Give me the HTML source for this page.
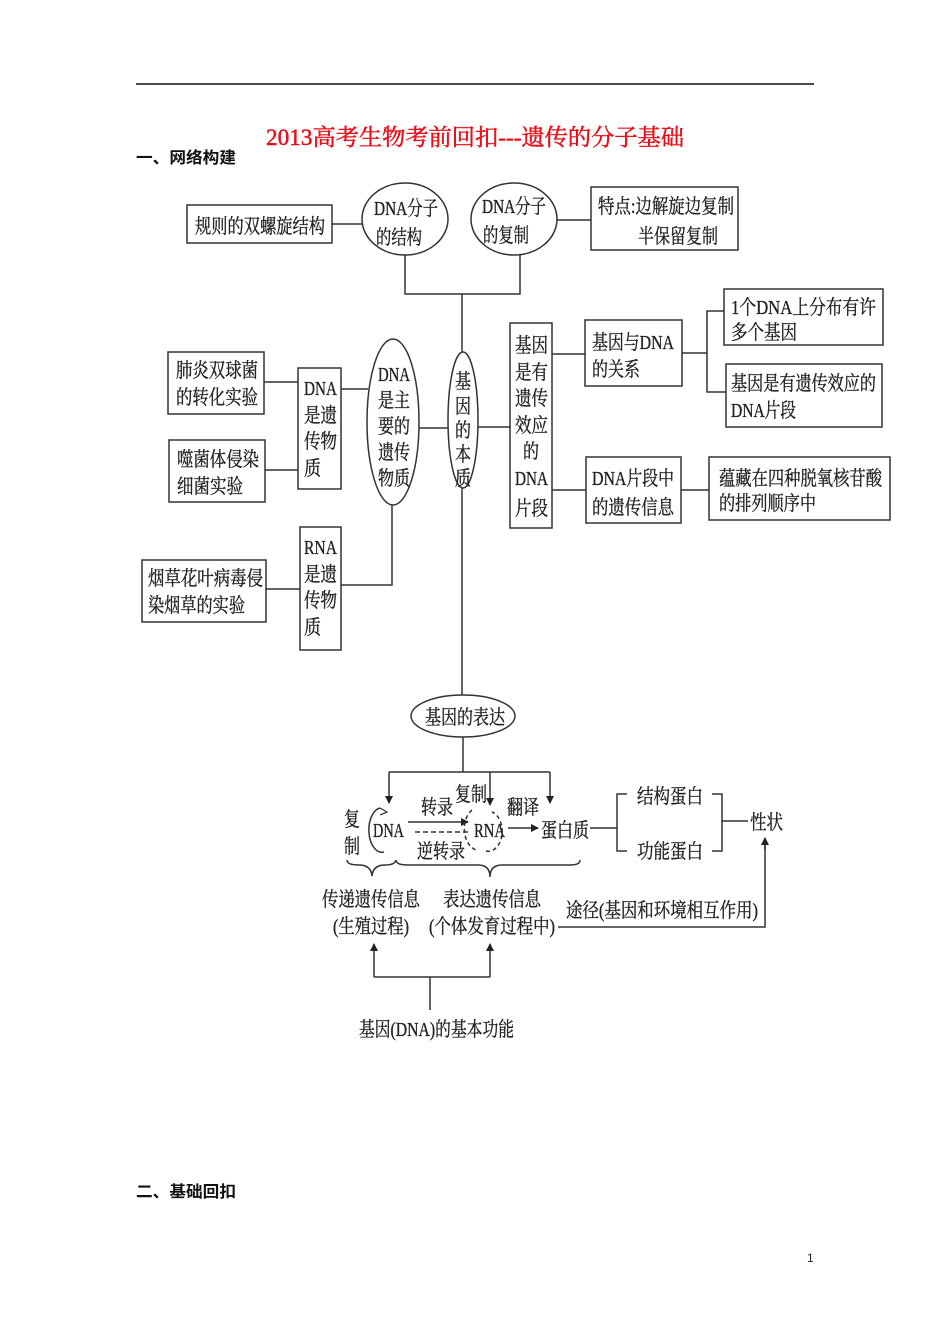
<!DOCTYPE html>
<html><head><meta charset="utf-8"><style>
html,body{margin:0;padding:0;background:#fff;}
svg{display:block;}
text{font-family:"Liberation Serif","Noto Serif CJK SC",serif;font-size:20px;fill:#222;stroke:#222;stroke-width:0.35;}
.s{font-family:"Liberation Sans","Noto Sans CJK SC",sans-serif;font-size:16px;font-weight:bold;fill:#111;stroke:none;}
</style></head><body>
<svg width="950" height="1344" viewBox="0 0 950 1344" xmlns="http://www.w3.org/2000/svg">
<defs><marker id="a" markerWidth="8" markerHeight="8" refX="7" refY="4" orient="auto" markerUnits="userSpaceOnUse"><path d="M0,0 L8,4 L0,8 z" fill="#222"/></marker></defs>
<line x1="136" y1="84" x2="814" y2="84" stroke="#111" stroke-width="1.5"/>
<text x="266" y="145" textLength="418" lengthAdjust="spacingAndGlyphs" style="font-size:23px;fill:#e8101a;stroke:#e8101a;stroke-width:0.5">2013高考生物考前回扣---遗传的分子基础</text>
<text class="s" x="136" y="163" textLength="100" lengthAdjust="spacingAndGlyphs">一、网络构建</text>
<text class="s" x="136" y="1197" textLength="100" lengthAdjust="spacingAndGlyphs">二、基础回扣</text>
<text x="807" y="1262" style="font-size:12px;font-family:'Liberation Sans',sans-serif;stroke:none">1</text>

<g fill="none" stroke="#333" stroke-width="1.5">
<rect x="187" y="205" width="145" height="38"/>
<line x1="332" y1="224" x2="362" y2="224"/>
<ellipse cx="405" cy="219" rx="43" ry="36"/>
<ellipse cx="514" cy="219" rx="43" ry="36"/>
<line x1="557" y1="220" x2="591" y2="220"/>
<rect x="591" y="187" width="147" height="63"/>
<polyline points="405,255 405,294 520,294 520,255"/>
<line x1="462" y1="294" x2="462" y2="352"/>
<ellipse cx="463" cy="420" rx="15" ry="68"/>
<line x1="462" y1="488" x2="462" y2="695"/>
<ellipse cx="393" cy="422" rx="26" ry="83"/>
<line x1="419" y1="428" x2="448" y2="428"/>
<line x1="478" y1="427" x2="510" y2="427"/>
<rect x="298" y="368" width="43" height="121"/>
<line x1="341" y1="389" x2="368" y2="389"/>
<rect x="168" y="352" width="96" height="62"/>
<line x1="264" y1="382" x2="298" y2="382"/>
<rect x="169" y="440" width="96" height="62"/>
<line x1="265" y1="470" x2="298" y2="470"/>
<rect x="300" y="527" width="41" height="123"/>
<polyline points="341,585 392,585 392,505"/>
<rect x="142" y="560" width="124" height="62"/>
<line x1="266" y1="589" x2="300" y2="589"/>
<rect x="510" y="323" width="42" height="205"/>
<rect x="585" y="320" width="97" height="66"/>
<line x1="552" y1="354" x2="585" y2="354"/>
<line x1="682" y1="353" x2="707" y2="353"/>
<polyline points="724,311 707,311 707,392 726,392"/>
<rect x="724" y="289" width="159" height="56"/>
<rect x="726" y="364" width="156" height="63"/>
<rect x="586" y="457" width="95" height="66"/>
<line x1="552" y1="490" x2="586" y2="490"/>
<rect x="709" y="457" width="181" height="63"/>
<line x1="681" y1="490" x2="709" y2="490"/>
<ellipse cx="463" cy="716" rx="52" ry="21"/>
<line x1="463" y1="737" x2="463" y2="772"/>
<line x1="389" y1="772" x2="550" y2="772"/>
<line x1="389" y1="772" x2="389" y2="803" marker-end="url(#a)"/>
<line x1="490" y1="772" x2="490" y2="805" marker-end="url(#a)"/>
<line x1="550" y1="772" x2="550" y2="803" marker-end="url(#a)"/>
<path d="M380,808 A13,22 0 1,0 384,852"/>
<path d="M380,808 l7,4 l-7,3" stroke-width="1.2"/>
<line x1="408" y1="822" x2="468" y2="822" marker-end="url(#a)"/>
<line x1="468" y1="832" x2="412" y2="832" stroke-dasharray="5,3"/>
<path d="M472,810 A16,22 0 0,0 476,850 M486,851 A14,20 0 0,0 492,812" stroke-dasharray="4,3"/>
<line x1="508" y1="828" x2="538" y2="828" marker-end="url(#a)"/>
<line x1="590" y1="828" x2="617" y2="828"/>
<polyline points="627,794 617,794 617,851 627,851"/>
<polyline points="712,794 722,794 722,851 712,851"/>
<line x1="722" y1="821" x2="748" y2="821"/>
<path d="M347,860 q0,5 12,5 q12,0 13,11 q1,-11 13,-11 q10,0 11,-5"/>
<path d="M396,860 q0,5 12,5 l70,0 q12,0 12,12 q0,-12 12,-12 l68,0 q10,0 10,-5"/>
<polyline points="558,927 765,927 765,840" />
<line x1="765" y1="850" x2="765" y2="838" marker-end="url(#a)"/>
<line x1="374" y1="977" x2="490" y2="977"/>
<line x1="374" y1="977" x2="374" y2="944" marker-end="url(#a)"/>
<line x1="490" y1="977" x2="490" y2="944" marker-end="url(#a)"/>
<line x1="430" y1="977" x2="430" y2="1010"/>
</g>

<g>
<text x="195" y="233" textLength="130" lengthAdjust="spacingAndGlyphs">规则的双螺旋结构</text>
<text x="374" y="215" textLength="64" lengthAdjust="spacingAndGlyphs">DNA分子</text>
<text x="376" y="244" textLength="46" lengthAdjust="spacingAndGlyphs">的结构</text>
<text x="482" y="213" textLength="64" lengthAdjust="spacingAndGlyphs">DNA分子</text>
<text x="483" y="242" textLength="46" lengthAdjust="spacingAndGlyphs">的复制</text>
<text x="598" y="213" textLength="136" lengthAdjust="spacingAndGlyphs">特点:边解旋边复制</text>
<text x="638" y="243" textLength="80" lengthAdjust="spacingAndGlyphs">半保留复制</text>
<text x="176" y="377" textLength="82" lengthAdjust="spacingAndGlyphs">肺炎双球菌</text>
<text x="176" y="404" textLength="82" lengthAdjust="spacingAndGlyphs">的转化实验</text>
<text x="177" y="466" textLength="82" lengthAdjust="spacingAndGlyphs">噬菌体侵染</text>
<text x="177" y="493" textLength="66" lengthAdjust="spacingAndGlyphs">细菌实验</text>
<text x="148" y="585" textLength="115" lengthAdjust="spacingAndGlyphs">烟草花叶病毒侵</text>
<text x="148" y="612" textLength="97" lengthAdjust="spacingAndGlyphs">染烟草的实验</text>
<text x="304" y="395" textLength="33" lengthAdjust="spacingAndGlyphs">DNA</text>
<text x="304" y="422" textLength="33" lengthAdjust="spacingAndGlyphs">是遗</text>
<text x="304" y="448" textLength="33" lengthAdjust="spacingAndGlyphs">传物</text>
<text x="304" y="475" textLength="17" lengthAdjust="spacingAndGlyphs">质</text>
<text x="304" y="554" textLength="33" lengthAdjust="spacingAndGlyphs">RNA</text>
<text x="304" y="581" textLength="33" lengthAdjust="spacingAndGlyphs">是遗</text>
<text x="304" y="607" textLength="33" lengthAdjust="spacingAndGlyphs">传物</text>
<text x="304" y="634" textLength="17" lengthAdjust="spacingAndGlyphs">质</text>
<text x="378" y="381" textLength="32" lengthAdjust="spacingAndGlyphs">DNA</text>
<text x="378" y="407" textLength="32" lengthAdjust="spacingAndGlyphs">是主</text>
<text x="378" y="433" textLength="32" lengthAdjust="spacingAndGlyphs">要的</text>
<text x="378" y="459" textLength="32" lengthAdjust="spacingAndGlyphs">遗传</text>
<text x="378" y="485" textLength="32" lengthAdjust="spacingAndGlyphs">物质</text>
<text x="455" y="388" textLength="16" lengthAdjust="spacingAndGlyphs">基</text>
<text x="455" y="413" textLength="16" lengthAdjust="spacingAndGlyphs">因</text>
<text x="455" y="437" textLength="16" lengthAdjust="spacingAndGlyphs">的</text>
<text x="455" y="461" textLength="16" lengthAdjust="spacingAndGlyphs">本</text>
<text x="455" y="485" textLength="16" lengthAdjust="spacingAndGlyphs">质</text>
<text x="515" y="352" textLength="33" lengthAdjust="spacingAndGlyphs">基因</text>
<text x="515" y="379" textLength="33" lengthAdjust="spacingAndGlyphs">是有</text>
<text x="515" y="405" textLength="33" lengthAdjust="spacingAndGlyphs">遗传</text>
<text x="515" y="432" textLength="33" lengthAdjust="spacingAndGlyphs">效应</text>
<text x="523" y="458" textLength="16" lengthAdjust="spacingAndGlyphs">的</text>
<text x="515" y="485" textLength="33" lengthAdjust="spacingAndGlyphs">DNA</text>
<text x="515" y="515" textLength="33" lengthAdjust="spacingAndGlyphs">片段</text>
<text x="592" y="349" textLength="82" lengthAdjust="spacingAndGlyphs">基因与DNA</text>
<text x="592" y="376" textLength="48" lengthAdjust="spacingAndGlyphs">的关系</text>
<text x="731" y="314" textLength="145" lengthAdjust="spacingAndGlyphs">1个DNA上分布有许</text>
<text x="731" y="339" textLength="66" lengthAdjust="spacingAndGlyphs">多个基因</text>
<text x="731" y="390" textLength="145" lengthAdjust="spacingAndGlyphs">基因是有遗传效应的</text>
<text x="731" y="417" textLength="65" lengthAdjust="spacingAndGlyphs">DNA片段</text>
<text x="592" y="485" textLength="82" lengthAdjust="spacingAndGlyphs">DNA片段中</text>
<text x="592" y="514" textLength="82" lengthAdjust="spacingAndGlyphs">的遗传信息</text>
<text x="719" y="485" textLength="163" lengthAdjust="spacingAndGlyphs">蕴藏在四种脱氧核苷酸</text>
<text x="719" y="510" textLength="97" lengthAdjust="spacingAndGlyphs">的排列顺序中</text>
<text x="425" y="724" textLength="80" lengthAdjust="spacingAndGlyphs">基因的表达</text>
<text x="344" y="826" textLength="16" lengthAdjust="spacingAndGlyphs">复</text>
<text x="344" y="853" textLength="16" lengthAdjust="spacingAndGlyphs">制</text>
<text x="373" y="837" textLength="31" lengthAdjust="spacingAndGlyphs">DNA</text>
<text x="474" y="837" textLength="31" lengthAdjust="spacingAndGlyphs">RNA</text>
<text x="421" y="814" textLength="32" lengthAdjust="spacingAndGlyphs">转录</text>
<text x="455" y="801" textLength="32" lengthAdjust="spacingAndGlyphs">复制</text>
<text x="417" y="858" textLength="48" lengthAdjust="spacingAndGlyphs">逆转录</text>
<text x="507" y="814" textLength="32" lengthAdjust="spacingAndGlyphs">翻译</text>
<text x="541" y="837" textLength="48" lengthAdjust="spacingAndGlyphs">蛋白质</text>
<text x="637" y="803" textLength="66" lengthAdjust="spacingAndGlyphs">结构蛋白</text>
<text x="637" y="858" textLength="66" lengthAdjust="spacingAndGlyphs">功能蛋白</text>
<text x="750" y="829" textLength="33" lengthAdjust="spacingAndGlyphs">性状</text>
<text x="322" y="906" textLength="98" lengthAdjust="spacingAndGlyphs">传递遗传信息</text>
<text x="333" y="933" textLength="76" lengthAdjust="spacingAndGlyphs">(生殖过程)</text>
<text x="443" y="906" textLength="98" lengthAdjust="spacingAndGlyphs">表达遗传信息</text>
<text x="429" y="933" textLength="126" lengthAdjust="spacingAndGlyphs">(个体发育过程中)</text>
<text x="566" y="917" textLength="192" lengthAdjust="spacingAndGlyphs">途径(基因和环境相互作用)</text>
<text x="359" y="1036" textLength="155" lengthAdjust="spacingAndGlyphs">基因(DNA)的基本功能</text>
</g>
</svg>
</body></html>
